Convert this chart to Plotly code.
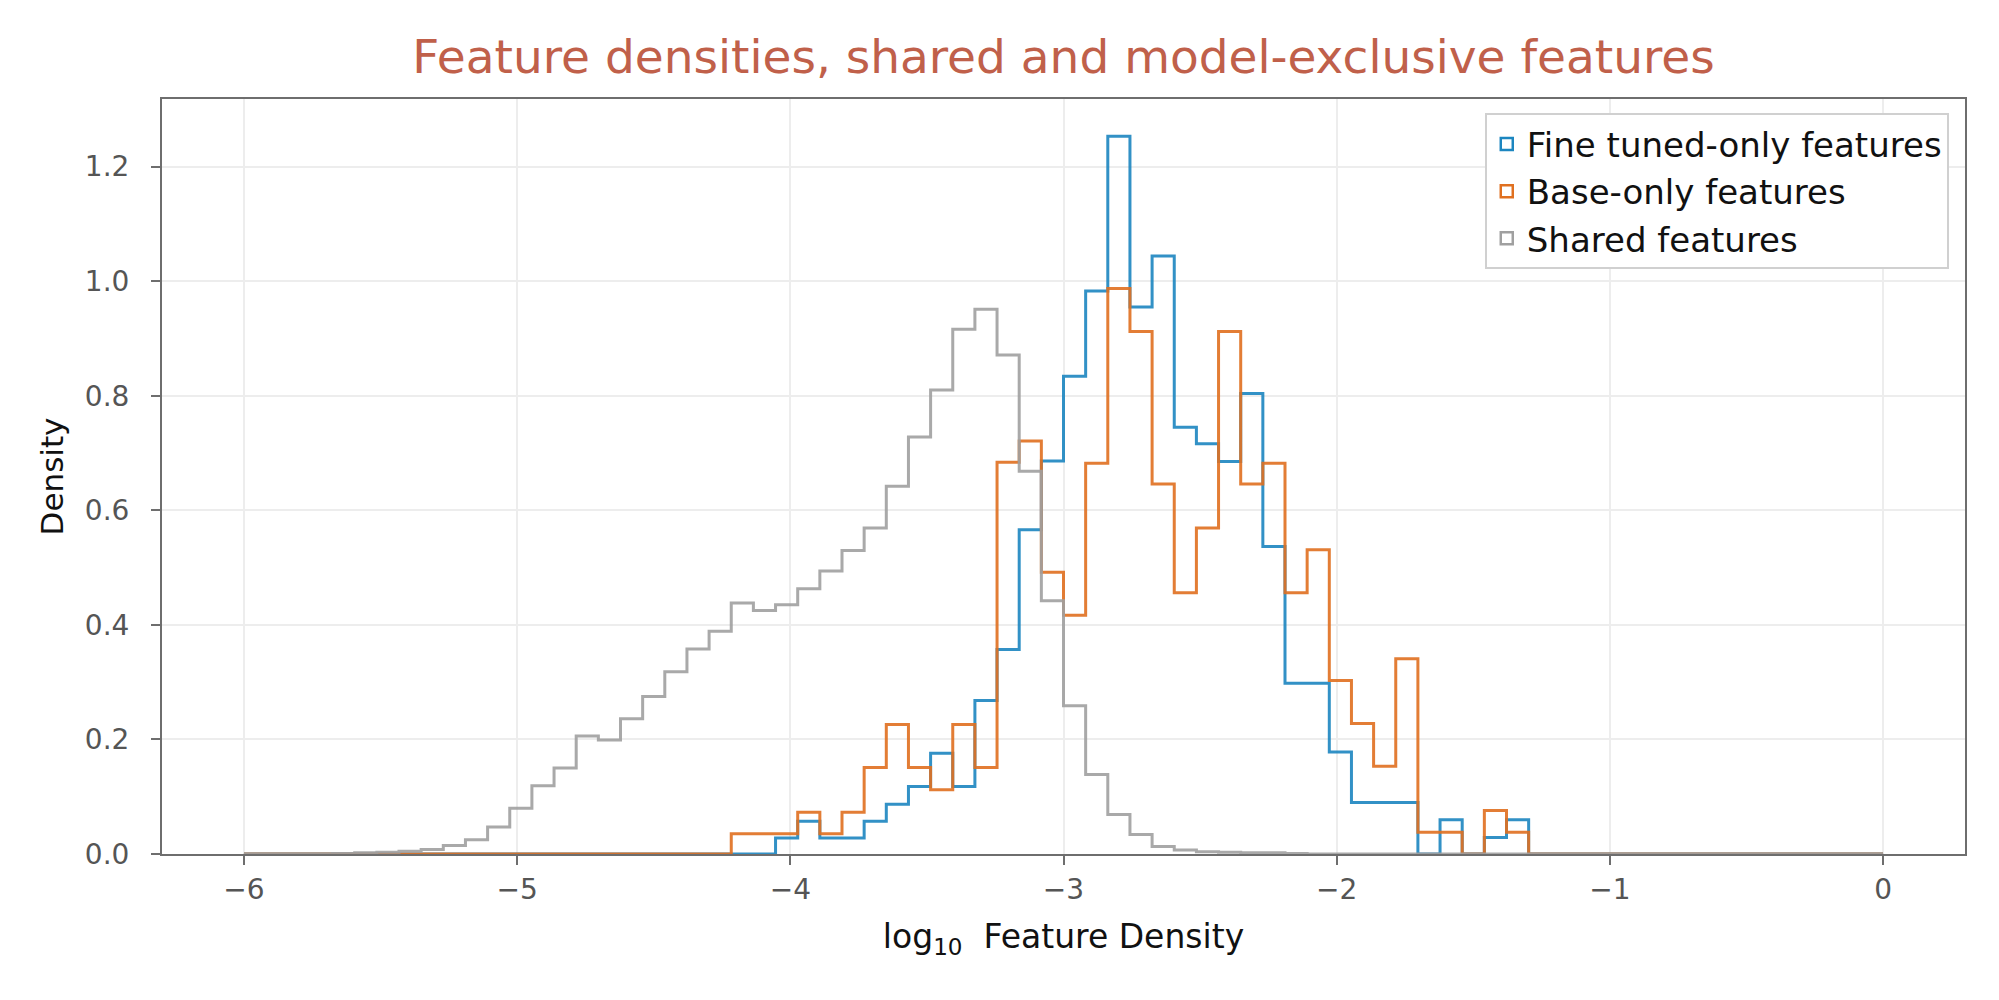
import numpy as np
import plotly.graph_objects as go

# 74 equal-width bins over log10 density from -6 to 0
bin_edges = np.linspace(-6, 0, 75)

series_names = ["Fine tuned-only features", "Base-only features", "Shared features"]

fine_tuned_density = [
    0, 0, 0, 0, 0, 0, 0, 0, 0, 0,
    0, 0, 0, 0, 0, 0, 0, 0, 0, 0,
    0, 0, 0, 0, 0.028, 0.057, 0.028, 0.028, 0.057, 0.087,
    0.118, 0.176, 0.118, 0.268, 0.357, 0.566, 0.686, 0.834, 0.983, 1.253,
    0.955, 1.044, 0.745, 0.716, 0.685, 0.804, 0.537, 0.298, 0.298, 0.178,
    0.090, 0.090, 0.090, 0, 0.060, 0, 0.029, 0.060, 0, 0,
    0, 0, 0, 0, 0, 0, 0, 0, 0, 0,
    0, 0, 0, 0,
]

base_density = [
    0, 0, 0, 0, 0, 0, 0, 0, 0, 0,
    0, 0, 0, 0, 0, 0, 0, 0, 0, 0,
    0, 0, 0.0355, 0.0355, 0.0355, 0.073, 0.0355, 0.073, 0.151, 0.226,
    0.151, 0.112, 0.226, 0.151, 0.684, 0.721, 0.492, 0.417, 0.682, 0.987,
    0.912, 0.646, 0.456, 0.569, 0.912, 0.646, 0.682, 0.456, 0.531, 0.303,
    0.228, 0.153, 0.341, 0.038, 0.038, 0, 0.076, 0.038, 0, 0,
    0, 0, 0, 0, 0, 0, 0, 0, 0, 0,
    0, 0, 0, 0,
]

shared_density = [
    0, 0, 0, 0, 0.001, 0.002, 0.003, 0.005, 0.008, 0.015,
    0.025, 0.047, 0.080, 0.119, 0.150, 0.206, 0.199, 0.236, 0.275, 0.318,
    0.358, 0.389, 0.438, 0.425, 0.435, 0.463, 0.494, 0.530, 0.569, 0.642,
    0.728, 0.810, 0.916, 0.951, 0.871, 0.668, 0.442, 0.259, 0.139, 0.069,
    0.034, 0.013, 0.007, 0.004, 0.003, 0.002, 0.002, 0.001, 0, 0,
    0, 0, 0, 0, 0, 0, 0, 0, 0, 0,
    0, 0, 0, 0, 0, 0, 0, 0, 0, 0,
    0, 0, 0, 0,
]

colors = ["#1c86c0", "#e07020", "#a0a0a0"]
FONT = "DejaVu Sans"

fig = go.Figure()

for name, dens, col in zip(series_names, [fine_tuned_density, base_density, shared_density], colors):
    # step outline: each edge carries the height of the bin that starts there
    fig.add_trace(go.Scatter(
        x=bin_edges, y=list(dens) + [dens[-1]],
        mode="lines", line=dict(color=col, width=3, shape="hv"),
        opacity=0.9, showlegend=False, hoverinfo="skip",
    ))

# legend entries drawn as outlined boxes, like a step histogram legend
for name, col in zip(series_names, colors):
    fig.add_trace(go.Bar(
        x=[None], y=[None], name=name,
        marker=dict(color="rgba(0,0,0,0)", line=dict(color=col, width=2.5)),
    ))

fig.update_layout(
    width=1999, height=1000,
    paper_bgcolor="white", plot_bgcolor="white",
    margin=dict(l=154, r=42, t=91, b=154),
    font=dict(family=FONT, color="#555555", size=24),
    title=dict(
        text="Feature densities, shared and model-exclusive features",
        x=0.5, xref="paper", xanchor="center", y=0.951, yanchor="middle",
        font=dict(family=FONT, size=47, color="#c0604a"),
    ),
    legend=dict(
        x=0.991, xanchor="right", y=0.981, yanchor="top",
        bgcolor="white", bordercolor="#d0d0d0", borderwidth=2,
        font=dict(family=FONT, size=34, color="#111111"),
        traceorder="normal", itemwidth=30,
    ),
    showlegend=True,
)

axis_common = dict(
    showline=True, mirror=True, linecolor="#6e6e6e", linewidth=2,
    showgrid=True, gridcolor="#ededed", gridwidth=1.5,
    ticks="outside", ticklen=9, tickwidth=2, tickcolor="#6e6e6e",
    tickfont=dict(family=FONT, size=28, color="#555555"),
    zeroline=False,
)

fig.update_xaxes(
    type="linear", range=[-6.3, 0.3], tickvals=[-6, -5, -4, -3, -2, -1, 0],
    ticklabelstandoff=0,
    title=dict(text="log<sub>10</sub>  Feature Density", standoff=20,
               font=dict(family=FONT, size=33, color="#111111")),
    **axis_common,
)
fig.update_yaxes(
    range=[0, 1.318], tickvals=[0, 0.2, 0.4, 0.6, 0.8, 1.0, 1.2], tickformat=".1f",
    ticklabelstandoff=16,
    title=dict(text="Density", standoff=12,
               font=dict(family=FONT, size=31, color="#111111")),
    **axis_common,
)

fig.write_html("out.html")
